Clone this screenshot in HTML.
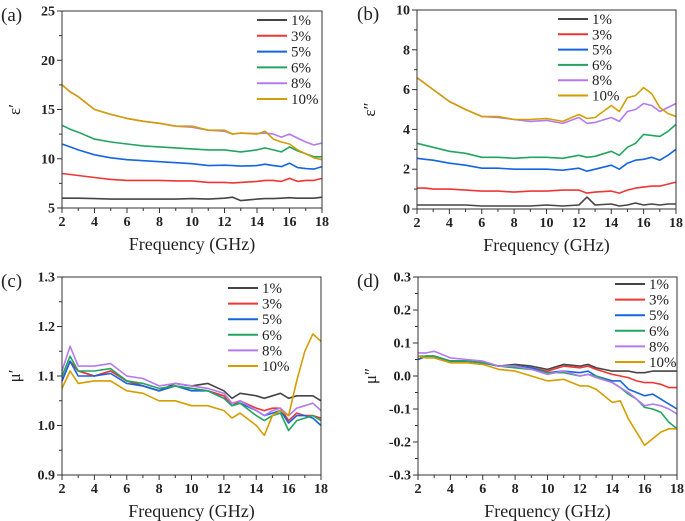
<!DOCTYPE html>
<html><head><meta charset="utf-8"><style>
html,body{margin:0;padding:0;background:#fff;}
svg{display:block;}
text{font-family:"Liberation Serif","DejaVu Serif",serif;}
</style></head><body>
<svg id="fig" width="685" height="521" viewBox="0 0 685 521" xmlns="http://www.w3.org/2000/svg"></svg>
<script>
const freq=[2,2.5,3,4,5,6,7,8,9,10,11,12,12.5,13,14,14.5,15,15.5,16,16.5,17,17.5,18];
const seriesNames=["1%","3%","5%","6%","8%","10%"];
const colors=["#454545","#f03535","#1565e0","#22a560","#b57af0","#d49e00"];
const xTicks=[2,4,6,8,10,12,14,16,18];
// panel a: epsilon'
const a1=[6.0,6.0,6.0,5.95,5.9,5.9,5.9,5.9,5.9,5.95,5.9,6.0,6.1,5.75,5.9,5.95,5.95,6.0,6.05,6.0,6.0,6.0,6.1];
const a3=[8.5,8.4,8.3,8.1,7.9,7.8,7.8,7.8,7.75,7.75,7.6,7.6,7.55,7.6,7.7,7.8,7.8,7.7,8.0,7.7,7.8,7.8,8.0];
const a5=[11.5,11.2,10.9,10.4,10.1,9.9,9.8,9.7,9.6,9.5,9.3,9.35,9.3,9.25,9.3,9.45,9.3,9.2,9.55,9.1,9.0,8.95,9.2];
const a6=[13.4,13.0,12.7,12.0,11.7,11.5,11.3,11.2,11.1,11.0,10.9,10.9,10.8,10.7,10.9,11.1,10.9,10.7,11.2,10.8,10.5,10.2,10.2];
const a8=[17.5,16.8,16.3,15.0,14.5,14.1,13.8,13.6,13.3,13.2,12.9,12.8,12.5,12.6,12.55,12.6,12.5,12.2,12.5,12.1,11.7,11.4,11.6];
const a10=[17.5,16.8,16.3,15.0,14.5,14.1,13.8,13.6,13.3,13.3,12.9,12.9,12.5,12.6,12.5,12.8,12.0,11.7,11.5,10.9,10.5,10.1,9.9];
const aTicks=[5,10,15,20,25];
// panel b: epsilon''
const b1=[0.2,0.2,0.2,0.2,0.2,0.15,0.15,0.15,0.15,0.2,0.15,0.2,0.6,0.2,0.25,0.15,0.2,0.3,0.2,0.25,0.2,0.25,0.25];
const b3=[1.05,1.05,1.0,1.0,0.95,0.9,0.9,0.85,0.9,0.9,0.95,0.95,0.8,0.85,0.9,0.8,0.95,1.05,1.1,1.15,1.15,1.25,1.35];
const b5=[2.55,2.5,2.45,2.3,2.2,2.05,2.05,2.0,2.0,2.0,1.95,2.05,1.9,2.0,2.2,2.0,2.3,2.45,2.5,2.6,2.45,2.7,3.0];
const b6=[3.3,3.2,3.1,2.9,2.8,2.6,2.6,2.55,2.6,2.6,2.55,2.7,2.6,2.65,2.9,2.7,3.1,3.3,3.75,3.7,3.65,3.9,4.25];
const b8=[6.6,6.3,6.0,5.4,5.0,4.65,4.6,4.5,4.4,4.45,4.3,4.6,4.3,4.35,4.6,4.4,4.9,5.0,5.3,5.2,4.9,5.1,5.3];
const b10=[6.6,6.3,6.0,5.4,5.0,4.65,4.65,4.5,4.5,4.55,4.4,4.75,4.55,4.6,5.2,4.9,5.6,5.7,6.1,5.8,5.1,4.8,4.65];
const bTicks=[0,2,4,6,8,10];
// panel c: mu'
const c1=[1.09,1.13,1.11,1.10,1.11,1.09,1.08,1.07,1.085,1.08,1.085,1.07,1.055,1.065,1.06,1.055,1.06,1.065,1.055,1.06,1.06,1.06,1.05];
const c3=[1.09,1.13,1.11,1.10,1.11,1.09,1.08,1.07,1.08,1.075,1.07,1.06,1.04,1.05,1.035,1.03,1.035,1.035,1.01,1.025,1.02,1.02,1.015];
const c5=[1.09,1.13,1.10,1.10,1.105,1.085,1.08,1.07,1.08,1.07,1.07,1.055,1.04,1.045,1.03,1.02,1.025,1.03,1.005,1.02,1.02,1.015,1.0];
const c6=[1.10,1.14,1.11,1.11,1.115,1.09,1.085,1.075,1.08,1.075,1.07,1.055,1.04,1.045,1.02,1.01,1.02,1.025,0.99,1.01,1.015,1.02,1.01];
const c8=[1.11,1.16,1.12,1.12,1.125,1.10,1.095,1.08,1.085,1.08,1.075,1.065,1.045,1.05,1.03,1.02,1.03,1.035,1.02,1.035,1.04,1.045,1.03];
const c10=[1.075,1.11,1.085,1.09,1.09,1.07,1.065,1.05,1.05,1.04,1.04,1.03,1.015,1.025,1.0,0.98,1.02,1.03,1.02,1.09,1.15,1.185,1.17];
const cTicks=[0.9,1.0,1.1,1.2,1.3];
// panel d: mu''
const d1=[0.05,0.06,0.06,0.045,0.045,0.04,0.03,0.035,0.03,0.02,0.035,0.03,0.035,0.025,0.015,0.015,0.015,0.01,0.01,0.015,0.015,0.015,0.015];
const d3=[0.05,0.06,0.06,0.045,0.045,0.04,0.03,0.03,0.025,0.015,0.03,0.025,0.03,0.02,0.005,0.0,-0.005,-0.015,-0.02,-0.02,-0.025,-0.035,-0.035];
const d5=[0.05,0.06,0.06,0.045,0.045,0.04,0.03,0.03,0.025,0.01,0.015,0.01,0.015,0.0,-0.015,-0.015,-0.04,-0.05,-0.06,-0.055,-0.07,-0.085,-0.1];
const d6=[0.06,0.06,0.06,0.045,0.045,0.04,0.03,0.025,0.02,0.01,0.01,0.0,0.005,0.0,-0.02,-0.035,-0.055,-0.07,-0.095,-0.1,-0.11,-0.14,-0.16];
const d8=[0.07,0.07,0.075,0.055,0.05,0.045,0.03,0.03,0.02,0.005,0.015,0.0,0.005,-0.005,-0.02,-0.035,-0.05,-0.07,-0.09,-0.085,-0.09,-0.1,-0.115];
const d10=[0.06,0.055,0.055,0.04,0.04,0.035,0.02,0.015,0.0,-0.015,-0.01,-0.03,-0.03,-0.04,-0.08,-0.075,-0.13,-0.17,-0.21,-0.19,-0.17,-0.16,-0.16];
const dTicks=[-0.3,-0.2,-0.1,0.0,0.1,0.2,0.3];

const NS="http://www.w3.org/2000/svg";
const svg=document.getElementById('fig');
const FONT='"Liberation Serif", "DejaVu Serif", serif';
function el(tag,attrs,parent){const e=document.createElementNS(NS,tag);for(const k in attrs)e.setAttribute(k,attrs[k]);if(tag==='text')e.style.fontFamily=FONT;(parent||svg).appendChild(e);return e;}

const panels=[
 {id:"a",L:62,R:322,T:11,B:208,data:[a1,a3,a5,a6,a8,a10],ticks:aTicks,fmt:v=>String(v),ytitle:"ε′",lx:257,ly:20,lsp:15.8},
 {id:"b",L:417,R:676,T:10,B:209,data:[b1,b3,b5,b6,b8,b10],ticks:bTicks,fmt:v=>String(v),ytitle:"ε″",lx:558,ly:19,lsp:15.3},
 {id:"c",L:62,R:321,T:277,B:475,data:[c1,c3,c5,c6,c8,c10],ticks:cTicks,fmt:v=>v.toFixed(1),ytitle:"μ′",lx:228,ly:288,lsp:15.6},
 {id:"d",L:418,R:677,T:277,B:475,data:[d1,d3,d5,d6,d8,d10],ticks:dTicks,fmt:v=>v.toFixed(1),ytitle:"μ″",lx:615,ly:284,lsp:15.6}
];

panels.forEach(p=>{
 const g=el('g',{});
 
 
 const y0=p.ticks[0], y1=p.ticks[p.ticks.length-1];
 const sx=v=>p.L+(v-2)/16*(p.R-p.L);
 const sy=v=>p.B-(v-y0)/(y1-y0)*(p.B-p.T);
 p.data.forEach((arr,i)=>{
  const d=arr.map((v,j)=>(j?'L':'M')+sx(freq[j]).toFixed(1)+','+sy(v).toFixed(1)).join(' ');
  const path=el('path',{d:d,fill:'none',stroke:colors[i],'stroke-width':1.6,'stroke-linejoin':'round'},g);
  
  
 });
 const fr=el('rect',{x:p.L,y:p.T,width:p.R-p.L,height:p.B-p.T,fill:'none',stroke:'#333','stroke-width':1},g);
 
 
 xTicks.forEach((t)=>{
  el('line',{x1:sx(t),x2:sx(t),y1:p.B,y2:p.B+5,stroke:'#333'},g);
  if(t<18) el('line',{x1:sx(t+1),x2:sx(t+1),y1:p.B,y2:p.B+3,stroke:'#333'},g);
  const tx=el('text',{x:sx(t),y:p.B+18,'text-anchor':'middle','font-size':14,'font-weight':'bold',fill:'#222'},g);
  tx.textContent=t;
  
  
 });
 p.ticks.forEach((t,k)=>{
  el('line',{x1:p.L-5,x2:p.L,y1:sy(t),y2:sy(t),stroke:'#333'},g);
  if(k<p.ticks.length-1){const m=(t+p.ticks[k+1])/2;el('line',{x1:p.L-3,x2:p.L,y1:sy(m),y2:sy(m),stroke:'#333'},g);}
  const ty=el('text',{x:p.L-7,y:sy(t)+4.5,'text-anchor':'end','font-size':14,'font-weight':'bold',fill:'#222'},g);
  ty.textContent=p.fmt(t);
  
  
 });
 const xt=el('text',{x:(p.L+p.R)/2,y:p.B+42,'text-anchor':'middle','font-size':18,fill:'#222'},g);
 xt.textContent="Frequency (GHz)";
 
 
 const yx=p.L-42, yy=(p.T+p.B)/2;
 const yt=el('text',{x:yx,y:yy,'text-anchor':'middle','font-size':17,fill:'#222',transform:'rotate(-90 '+yx+' '+yy+')'},g);
 yt.textContent=p.ytitle;
 
 
 const pl=el('text',{x:p.id==='a'||p.id==='c'?1:357,y:p.T+10,'font-size':19,fill:'#222'},g);
 pl.textContent='('+p.id+')';
 
 
 seriesNames.forEach((n,i)=>{
  const y=p.ly+i*p.lsp;
  const ln=el('line',{x1:p.lx,x2:p.lx+30,y1:y,y2:y,stroke:colors[i],'stroke-width':2},g);
  
  
  const lt=el('text',{x:p.lx+34,y:y+5,'font-size':15,fill:'#222'},g);
  lt.textContent=n;
  
  
 });
});
</script>
</body></html>
